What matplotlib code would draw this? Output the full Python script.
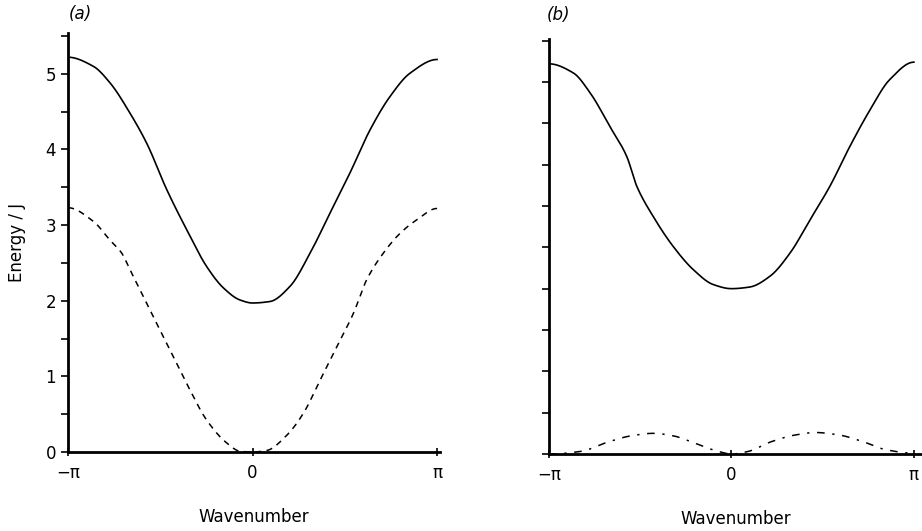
import numpy as np
import matplotlib
matplotlib.use("Agg")
import matplotlib.pyplot as plt

pi = np.pi

# panel (a): wavenumber in units of pi
ka = [-1.0, -0.863, -0.772, -0.664, -0.573, -0.465, -0.357, -0.248, -0.158, -0.068, 0.0,
      0.095, 0.203, 0.312, 0.42, 0.528, 0.637, 0.745, 0.854, 1.0]
upper_a = [5.22, 5.10, 4.88, 4.48, 4.08, 3.47, 2.94, 2.45, 2.17, 2.01, 1.97,
           1.99, 2.19, 2.63, 3.16, 3.69, 4.26, 4.70, 5.01, 5.19]
kda = [-1.0, -0.863, -0.772, -0.709, -0.664, -0.583, -0.501, -0.42, -0.339, -0.248,
       -0.14, -0.068, 0.0, 0.077, 0.185, 0.275, 0.366, 0.456, 0.546, 0.619, 0.709,
       0.799, 0.89, 1.0]
lower_a = [3.23, 3.05, 2.80, 2.63, 2.41, 2.01, 1.61, 1.22, 0.82, 0.42,
           0.12, 0.01, 0.0, 0.02, 0.22, 0.51, 0.95, 1.39, 1.83, 2.28, 2.63,
           2.89, 3.07, 3.22]

# panel (b)
kb = [-1.0, -0.867, -0.775, -0.666, -0.574, -0.519, -0.428, -0.319, -0.209, -0.1, 0.0,
      0.101, 0.211, 0.321, 0.43, 0.54, 0.649, 0.759, 0.868, 1.0]
upper_b = [4.72, 4.61, 4.37, 3.96, 3.60, 3.24, 2.87, 2.51, 2.23, 2.05, 2.0,
           2.02, 2.15, 2.43, 2.83, 3.24, 3.72, 4.16, 4.53, 4.74]
kdb = [-1.0, -0.83, -0.67, -0.55, -0.43, -0.32, -0.20, -0.07, 0.0,
       0.09, 0.22, 0.35, 0.46, 0.59, 0.72, 0.85, 1.0]
lower_b = [0.0, 0.03, 0.15, 0.22, 0.25, 0.22, 0.13, 0.03, 0.0,
           0.03, 0.15, 0.23, 0.26, 0.23, 0.15, 0.05, 0.01]

xticks = [-pi, 0, pi]
xlabels = ["\u2212\u03c0", "0", "\u03c0"]


def smooth(k, v):
    # monotone cubic (pchip) through the read points
    x = np.array(k) * pi
    y = np.array(v)
    h = np.diff(x)
    d = np.diff(y) / h
    m = np.zeros_like(y)
    for i in range(1, len(x) - 1):
        if d[i - 1] * d[i] > 0:
            w1 = 2*h[i] + h[i - 1]
            w2 = h[i] + 2*h[i - 1]
            m[i] = (w1 + w2) / (w1/d[i - 1] + w2/d[i])
    m[0] = d[0] if abs(d[0]) < 0.05 else 0.0
    m[-1] = d[-1] if abs(d[-1]) < 0.05 else 0.0
    xs, ys = [], []
    for i in range(len(x) - 1):
        t = np.linspace(0, 1, 25, endpoint=False)
        h00 = 2*t**3 - 3*t**2 + 1
        h10 = t**3 - 2*t**2 + t
        h01 = -2*t**3 + 3*t**2
        h11 = t**3 - t**2
        xs.append(x[i] + t*h[i])
        ys.append(h00*y[i] + h10*h[i]*m[i] + h01*y[i + 1] + h11*h[i]*m[i + 1])
    xs.append([x[-1]])
    ys.append([y[-1]])
    return np.concatenate(xs), np.concatenate(ys)


fig = plt.figure(figsize=(9.22, 5.31), dpi=100)
ax1 = fig.add_axes([68/922, 1-452/531, 372/922, 419/531])
ax2 = fig.add_axes([549/922, 1-454/531, 373/922, 415/531])

x, y = smooth(ka, upper_a)
ax1.plot(x, y, color="black", lw=1.2)
x, y = smooth(kda, lower_a)
ax1.plot(x, y, color="black", lw=1.1, linestyle=(0, (4, 3.5)))

x, y = smooth(kb, upper_b)
ax2.plot(x, y, color="black", lw=1.2)
x, y = smooth(kdb, lower_b)
ax2.plot(x, y, color="black", lw=1.1, linestyle=(0, (5, 5, 1.5, 5)))

ax1.set_xlim(-pi, pi + 0.05)
ax1.set_ylim(0, 5.54)
ax2.set_xlim(-pi, pi + 0.14)
ax2.set_ylim(0, 5.02)

for ax in (ax1, ax2):
    for s in ("top", "right"):
        ax.spines[s].set_visible(False)
    for s in ("left", "bottom"):
        ax.spines[s].set_linewidth(2)
    ax.set_xticks(xticks)
    ax.set_xticklabels(xlabels, fontsize=12)
    ax.tick_params(axis="x", direction="inout", length=6, width=1.2, pad=6)
    ax.tick_params(axis="y", direction="out", length=5, width=1.2, labelsize=12)
    ax.set_xlabel("Wavenumber", fontsize=12, labelpad=18)

ax1.set_yticks([0, 1, 2, 3, 4, 5])
ax1.set_yticks(np.arange(0.5, 5.6, 1.0), minor=True)
ax1.tick_params(axis="y", which="minor", direction="out", length=5, width=1.2)
ax1.set_ylabel("Energy / J", fontsize=12, labelpad=14)

ax2.set_yticks(np.arange(0, 5.01, 0.5))
ax2.set_yticklabels([])

fig.text(80/922, 1-14/531, "(a)", fontsize=12, style="italic", ha="center", va="center")
fig.text(558/922, 1-15/531, "(b)", fontsize=12, style="italic", ha="center", va="center")

fig.savefig("out.png", dpi=100)
